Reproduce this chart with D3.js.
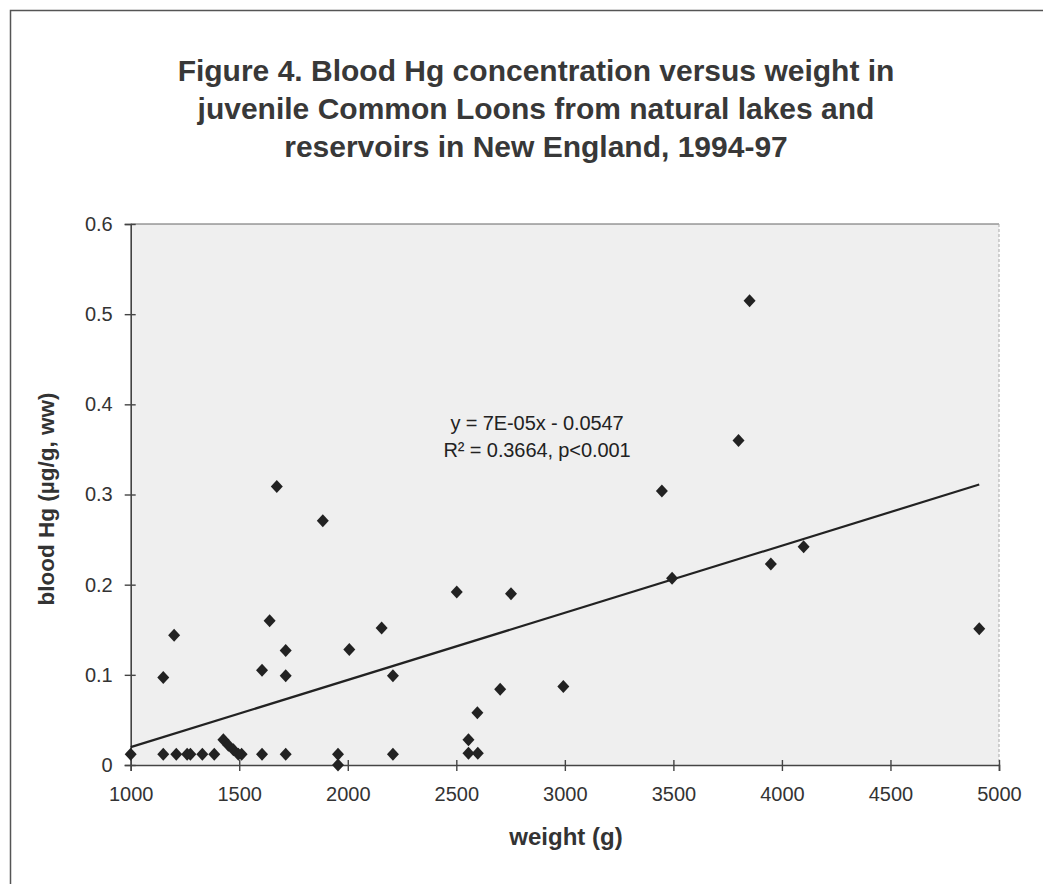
<!DOCTYPE html>
<html>
<head>
<meta charset="utf-8">
<script src="https://cdn.jsdelivr.net/npm/d3@7"></script>
<style>
  html, body { margin: 0; padding: 0; background: #ffffff; }
  svg { display: block; }
</style>
</head>
<body>
<svg id="chart" width="1043" height="884"></svg>
<script>
// ---- data ----
const titleLines = [
  "Figure 4. Blood Hg concentration versus weight in",
  "juvenile Common Loons from natural lakes and",
  "reservoirs in New England, 1994-97"
];
const weights = [1000, 1150, 1200, 1150, 1210, 1260, 1275, 1330, 1385, 1427, 1450, 1473, 1496, 1511,
  1605, 1605, 1640, 1673, 1714, 1714, 1714, 1885, 1955, 1955, 2007, 2156, 2208, 2208,
  2502, 2556, 2556, 2597, 2599, 2702, 2752, 2993, 3447, 3494, 3800, 3851, 3949, 4100, 4909];
const hgValues = [0.012, 0.097, 0.144, 0.012, 0.012, 0.012, 0.012, 0.012, 0.012, 0.028, 0.022, 0.017, 0.012, 0.012,
  0.012, 0.105, 0.160, 0.309, 0.127, 0.099, 0.012, 0.271, 0.012, 0.000, 0.128, 0.152, 0.099, 0.012,
  0.192, 0.028, 0.013, 0.058, 0.013, 0.084, 0.190, 0.087, 0.304, 0.207, 0.360, 0.515, 0.223, 0.242, 0.151];
const xTicks = [1000, 1500, 2000, 2500, 3000, 3500, 4000, 4500, 5000];
const yTicks = [0, 0.1, 0.2, 0.3, 0.4, 0.5, 0.6];
const trendSlope = [0.0000745];
const trendIntercept = [-0.0547];
const equationLines = ["y = 7E-05x - 0.0547", "R\u00B2 = 0.3664, p<0.001"];
const xLabel = "weight (g)";
const yLabel = "blood Hg (\u00B5g/g, ww)";

// ---- layout ----
const svg = d3.select("#chart");
const plot = { left: 130.7, top: 224, right: 999, bottom: 765 };
const x = d3.scaleLinear().domain([1000, 5000]).range([plot.left, plot.right]);
const y = d3.scaleLinear().domain([0, 0.6]).range([plot.bottom, plot.top]);
const font = "'Liberation Sans', Arial, sans-serif";

// outer frame
svg.append("path")
  .attr("d", `M10.5,${884} L10.5,10.5 L1043,10.5`)
  .attr("fill", "none").attr("stroke", "#555").attr("stroke-width", 1.5);

// title
svg.append("g").selectAll("text").data(titleLines).join("text")
  .attr("x", 536).attr("y", (d, i) => 81 + i * 38)
  .attr("text-anchor", "middle")
  .attr("font-family", font).attr("font-weight", "bold").attr("font-size", 30)
  .attr("fill", "#383838")
  .text(d => d);

// plot background
svg.append("rect")
  .attr("x", plot.left).attr("y", plot.top)
  .attr("width", plot.right - plot.left).attr("height", plot.bottom - plot.top)
  .attr("fill", "#efefef");
// top & right border
svg.append("path")
  .attr("d", `M${plot.left},${plot.top} L${plot.right},${plot.top}`)
  .attr("stroke", "#666").attr("stroke-width", 1.2).attr("fill", "none");
svg.append("path")
  .attr("d", `M${plot.right},${plot.top} L${plot.right},${plot.bottom}`)
  .attr("stroke", "#aaa").attr("stroke-width", 1).attr("stroke-dasharray", "3,2").attr("fill", "none");

// x axis
const xAxis = svg.append("g")
  .attr("transform", `translate(0,${plot.bottom})`)
  .call(d3.axisBottom(x).tickValues(xTicks).tickSize(6).tickPadding(16).tickFormat(d3.format("d")));
xAxis.select(".domain").attr("stroke", "#444").attr("stroke-width", 1.6);
xAxis.selectAll(".tick line").attr("y1", -5).attr("y2", 6).attr("stroke", "#444").attr("stroke-width", 1.4);
xAxis.selectAll(".tick text")
  .attr("font-family", font).attr("font-size", 20).attr("fill", "#333");

// y axis
const yAxis = svg.append("g")
  .attr("transform", `translate(${plot.left},0)`)
  .call(d3.axisLeft(y).tickValues(yTicks).tickSize(6).tickPadding(12).tickFormat(d => d === 0 ? "0" : d3.format(".1f")(d)));
yAxis.select(".domain").attr("stroke", "#444").attr("stroke-width", 1.6);
yAxis.selectAll(".tick line").attr("x1", -6).attr("x2", 5).attr("stroke", "#444").attr("stroke-width", 1.4);
yAxis.selectAll(".tick text")
  .attr("font-family", font).attr("font-size", 20).attr("fill", "#333");

// trend line
const xMin = d3.min(weights), xMax = d3.max(weights);
svg.append("line")
  .attr("x1", x(xMin)).attr("y1", y(trendSlope[0] * xMin + trendIntercept[0]))
  .attr("x2", x(xMax)).attr("y2", y(trendSlope[0] * xMax + trendIntercept[0]))
  .attr("stroke", "#222").attr("stroke-width", 2.2);

// points (diamonds)
const pts = weights.map((w, i) => ({ w, h: hgValues[i] }));
svg.append("g").selectAll("path").data(pts).join("path")
  .attr("transform", d => `translate(${x(d.w)},${y(d.h)})`)
  .attr("d", "M0,-6.5 L6,0 L0,6.5 L-6,0 Z")
  .attr("fill", "#222");

// equation
svg.append("g").selectAll("text").data(equationLines).join("text")
  .attr("x", 537).attr("y", (d, i) => 430 + i * 27)
  .attr("text-anchor", "middle")
  .attr("font-family", font).attr("font-size", 20).attr("letter-spacing", -0.1)
  .attr("fill", "#222")
  .text(d => d);

// axis labels
svg.append("text")
  .attr("x", 566).attr("y", 845)
  .attr("text-anchor", "middle")
  .attr("font-family", font).attr("font-weight", "bold").attr("font-size", 24)
  .attr("fill", "#333").text(xLabel);
svg.append("text")
  .attr("transform", "translate(54,499) rotate(-90)")
  .attr("text-anchor", "middle")
  .attr("font-family", font).attr("font-weight", "bold").attr("font-size", 22.5)
  .attr("fill", "#333").text(yLabel);
</script>
</body>
</html>
